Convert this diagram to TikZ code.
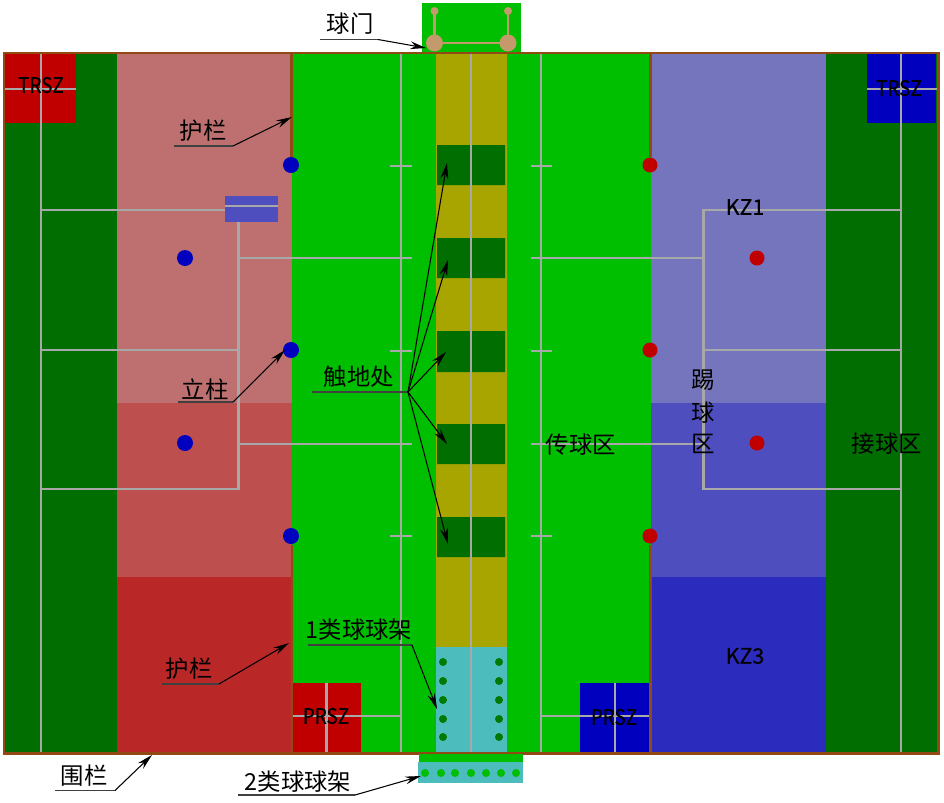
\documentclass[tikz,border=0pt]{standalone}
\usepackage{xcolor}
\usepackage{fontspec}
\setmainfont{Noto Sans CJK SC}
\newfontfamily\kzfont[FakeBold=0.4]{Noto Sans CJK SC}
\newfontfamily\szfont[FakeBold=0.4,FakeStretch=0.88]{Noto Sans CJK SC}
\usepackage{tikz}
\usetikzlibrary{arrows.meta}
\definecolor{fieldgreen}{RGB}{0, 190, 0}
\definecolor{darkgreen}{RGB}{0, 110, 0}
\definecolor{strawyellow}{RGB}{168, 164, 0}
\definecolor{basecyan}{RGB}{76, 188, 188}
\definecolor{redtop}{RGB}{190, 112, 112}
\definecolor{redmid}{RGB}{190, 79, 79}
\definecolor{redlow}{RGB}{186, 39, 39}
\definecolor{bluetop}{RGB}{117, 117, 190}
\definecolor{bluemid}{RGB}{78, 78, 190}
\definecolor{bluelow}{RGB}{43, 43, 190}
\definecolor{teamred}{RGB}{192, 0, 0}
\definecolor{teamblue}{RGB}{0, 0, 190}
\definecolor{fencebrown}{RGB}{146, 74, 20}
\definecolor{postbrown}{RGB}{196, 154, 108}
\definecolor{courtgrey}{RGB}{168, 168, 168}
\tikzset{
  courtline/.style={courtgrey, line width=1.4pt},
  fenceline/.style={fencebrown, line width=1.9pt},
  postline/.style={postbrown, line width=1.7pt},
  cnlabel/.style={inner sep=0pt, font=\fontsize{13.3}{15}\selectfont},
  kzlabel/.style={inner sep=0pt, font=\fontsize{12.2}{14}\selectfont\kzfont},
  szlabel/.style={inner sep=0pt, font=\fontsize{12.2}{14}\selectfont\szfont},
  underline/.style={black!75, line width=0.7pt},
  pointer/.style={black, line width=0.6pt, -{Stealth[length=9pt, width=4.4pt]}}
}

\begin{document}
\begin{tikzpicture}[x=0.02cm, y=-0.02cm]
    \useasboundingbox (0,0) rectangle (944,802);

    %% left half
    \fill[darkgreen] (4,53) rectangle (117,753);
    \fill[redtop] (117,53) rectangle (292,403);
    \fill[redmid] (117,403) rectangle (292,577);
    \fill[redlow] (117,577) rectangle (292,753);

    %% middle
    \fill[fieldgreen] (292,53) rectangle (651,753);
    \fill[strawyellow] (436,53) rectangle (507,647);
    \fill[darkgreen] (437,145) rectangle (505,185) (437,238) rectangle (505,278)
      (437,331) rectangle (505,372) (437,424) rectangle (505,464) (437,517) rectangle (505,557);
    \fill[basecyan] (436,647) rectangle (507,753);

    %% right half
    \fill[bluetop] (651,53) rectangle (826,403);
    \fill[bluemid] (651,403) rectangle (826,577);
    \fill[bluelow] (651,577) rectangle (826,753);
    \fill[darkgreen] (826,53) rectangle (938,753);

    %% serve zones
    \fill[teamred] (5,54) rectangle (76,123);
    \fill[teamblue] (867,54) rectangle (936,123);
    \fill[teamred] (293,683) rectangle (361,753);
    \fill[teamblue] (580,683) rectangle (650,753);
    \fill[bluemid] (225,196) rectangle (278,222);

    %% court lines, left
    \draw[courtline] (41,54) -- (41,753);
    \draw[courtline] (5,89) -- (76,89);
    \draw[courtline] (41,210) -- (225,210);
    \draw[courtline] (225,206) -- (278,206);
    \draw[courtline] (238.5,222) -- (238.5,489) -- (41,489);
    \draw[courtline] (41,350) -- (238.5,350);
    \draw[courtline] (238.5,258) -- (412,258);
    \draw[courtline] (238.5,444) -- (412,444);
    \draw[courtline] (401,54) -- (401,753);
    \draw[courtline] (390,166) -- (412,166);
    \draw[courtline] (390,351) -- (412,351);
    \draw[courtline] (390,536) -- (412,536);
    \draw[courtline] (326.5,683) -- (326.5,753);
    \draw[courtline] (293,716) -- (401,716);

    %% court lines, centre and right
    \draw[courtline] (471,54) -- (471,753);
    \draw[courtline] (541,54) -- (541,753);
    \draw[courtline] (531,166) -- (552,166);
    \draw[courtline] (531,351) -- (552,351);
    \draw[courtline] (531,536) -- (552,536);
    \draw[courtline] (531,258) -- (703.5,258);
    \draw[courtline] (531,444) -- (703.5,444);
    \draw[courtline] (901,210) -- (703.5,210) -- (703.5,489) -- (901,489);
    \draw[courtline] (703.5,350) -- (901,350);
    \draw[courtline] (901,54) -- (901,753);
    \draw[courtline] (867,89) -- (937,89);
    \draw[courtline] (615,683) -- (615,753);
    \draw[courtline] (541,716) -- (650,716);

    %% fence
    \draw[fencebrown, line width=1.7pt] (4,53) rectangle (938,753);
    \draw[fenceline] (291.5,53) -- (291.5,157);
    \draw[fenceline, line width=1.4pt] (292,545) -- (292,753);
    \draw[fenceline, line width=1.4pt] (650.5,53) -- (650.5,157);
    \draw[fenceline, line width=1.4pt] (650.5,545) -- (650.5,753);

    %% posts
    \fill[teamblue] (291,165) circle (8) (185,258) circle (8) (291,350) circle (8)
      (185,443) circle (8) (291,536) circle (8);
    \fill[teamred] (650,165) circle (7.5) (757,258) circle (7.5) (650,350) circle (7.5)
      (757,443) circle (7.5) (650,536) circle (7.5);

    %% ball racks
    \fill[darkgreen!85!fieldgreen] (443,662) circle (4) (443,681) circle (4) (443,700) circle (4)
      (443,719) circle (4) (443,737) circle (4) (499,662) circle (4) (499,681) circle (4)
      (499,700) circle (4) (499,719) circle (4) (499,737) circle (4);
    \fill[fieldgreen] (419,754) rectangle (523,762);
    \fill[basecyan] (418,762) rectangle (523,783);
    \fill[fieldgreen] (425,773) circle (4) (441,773) circle (4) (455,773) circle (4)
      (471,773) circle (4) (486,773) circle (4) (501,773) circle (4) (516,773) circle (4);

    %% goal
    \fill[fieldgreen] (422,3) rectangle (521,52);
    \draw[postline] (434.5,11) -- (434.5,43);
    \draw[postline] (508,11) -- (508,43);
    \draw[postline] (434.5,43) -- (508,43);
    \fill[postbrown] (434.5,11) circle (4) (508,11) circle (4)
      (434.5,43) circle (8.5) (508,43) circle (8.5);

    %% zone names
    \node[szlabel] (trszleft) at (41,85) {TRSZ};
    \node[szlabel] (trszright) at (899,88) {TRSZ};
    \node[szlabel] (prszleft) at (326,716) {PRSZ};
    \node[szlabel] (prszright) at (614,717) {PRSZ};
    \node[kzlabel] (kzone) at (745,207) {KZ1};
    \node[kzlabel] (kzthree) at (745,656) {KZ3};
    \node[cnlabel] (passzone) at (581,445) {传球区};
    \node[cnlabel] (catchzone) at (887,444) {接球区};
    \node[cnlabel] (kicka) at (703,380) {踢};
    \node[cnlabel] (kickb) at (703,413) {球};
    \node[cnlabel] (kickc) at (703,444) {区};

    %% callouts
    \node[cnlabel] (goallab) at (350,24) {球门};
    \coordinate (goalstart) at (320,39.5);
    \coordinate (goalbend) at (378,39.5);
    \coordinate (goaltip) at (426,48);
    \draw[underline] (goalstart) -- (goalbend);
    \draw[pointer] (goalbend) -- (goaltip);

    \node[cnlabel] (raillab) at (203,131) {护栏};
    \coordinate (railstart) at (174,146);
    \coordinate (railbend) at (233,146);
    \coordinate (railtip) at (292,117);
    \draw[underline] (railstart) -- (railbend);
    \draw[pointer] (railbend) -- (railtip);

    \node[cnlabel] (postlab) at (205,390) {立柱};
    \coordinate (poststart) at (178,402);
    \coordinate (postbend) at (233,402);
    \coordinate (posttip) at (285,350);
    \draw[underline] (poststart) -- (postbend);
    \draw[pointer] (postbend) -- (posttip);

    \node[cnlabel] (touchlab) at (359,377) {触地处};
    \coordinate (touchstart) at (312,392);
    \coordinate (touchbend) at (408,392);
    \coordinate (touchone) at (447,163);
    \coordinate (touchtwo) at (448,260);
    \coordinate (touchthree) at (446,352);
    \coordinate (touchfour) at (447,444);
    \coordinate (touchfive) at (448,544);
    \draw[underline] (touchstart) -- (touchbend);
    \draw[pointer] (touchbend) -- (touchone);
    \draw[pointer] (touchbend) -- (touchtwo);
    \draw[pointer] (touchbend) -- (touchthree);
    \draw[pointer] (touchbend) -- (touchfour);
    \draw[pointer] (touchbend) -- (touchfive);

    \node[cnlabel] (racklab) at (359,630) {1类球球架};
    \coordinate (rackstart) at (308,645);
    \coordinate (rackbend) at (412,645);
    \coordinate (racktip) at (437,709);
    \draw[underline] (rackstart) -- (rackbend);
    \draw[pointer] (rackbend) -- (racktip);

    \node[cnlabel] (raillow) at (189,669) {护栏};
    \coordinate (lowstart) at (162,684);
    \coordinate (lowbend) at (219,684);
    \coordinate (lowtip) at (289,643);
    \draw[underline] (lowstart) -- (lowbend);
    \draw[pointer] (lowbend) -- (lowtip);

    \node[cnlabel] (fencelab) at (84,776) {围栏};
    \coordinate (fencestart) at (55,790.5);
    \coordinate (fencebend) at (115,790.5);
    \coordinate (fencetip) at (152,755);
    \draw[underline] (fencestart) -- (fencebend);
    \draw[pointer] (fencebend) -- (fencetip);

    \node[cnlabel] (sidelab) at (298,782) {2类球球架};
    \coordinate (sidestart) at (238,795);
    \coordinate (sidebend) at (355,795);
    \coordinate (sidetip) at (421,776);
    \draw[underline] (sidestart) -- (sidebend);
    \draw[pointer] (sidebend) -- (sidetip);
  \end{tikzpicture}
\end{document}
